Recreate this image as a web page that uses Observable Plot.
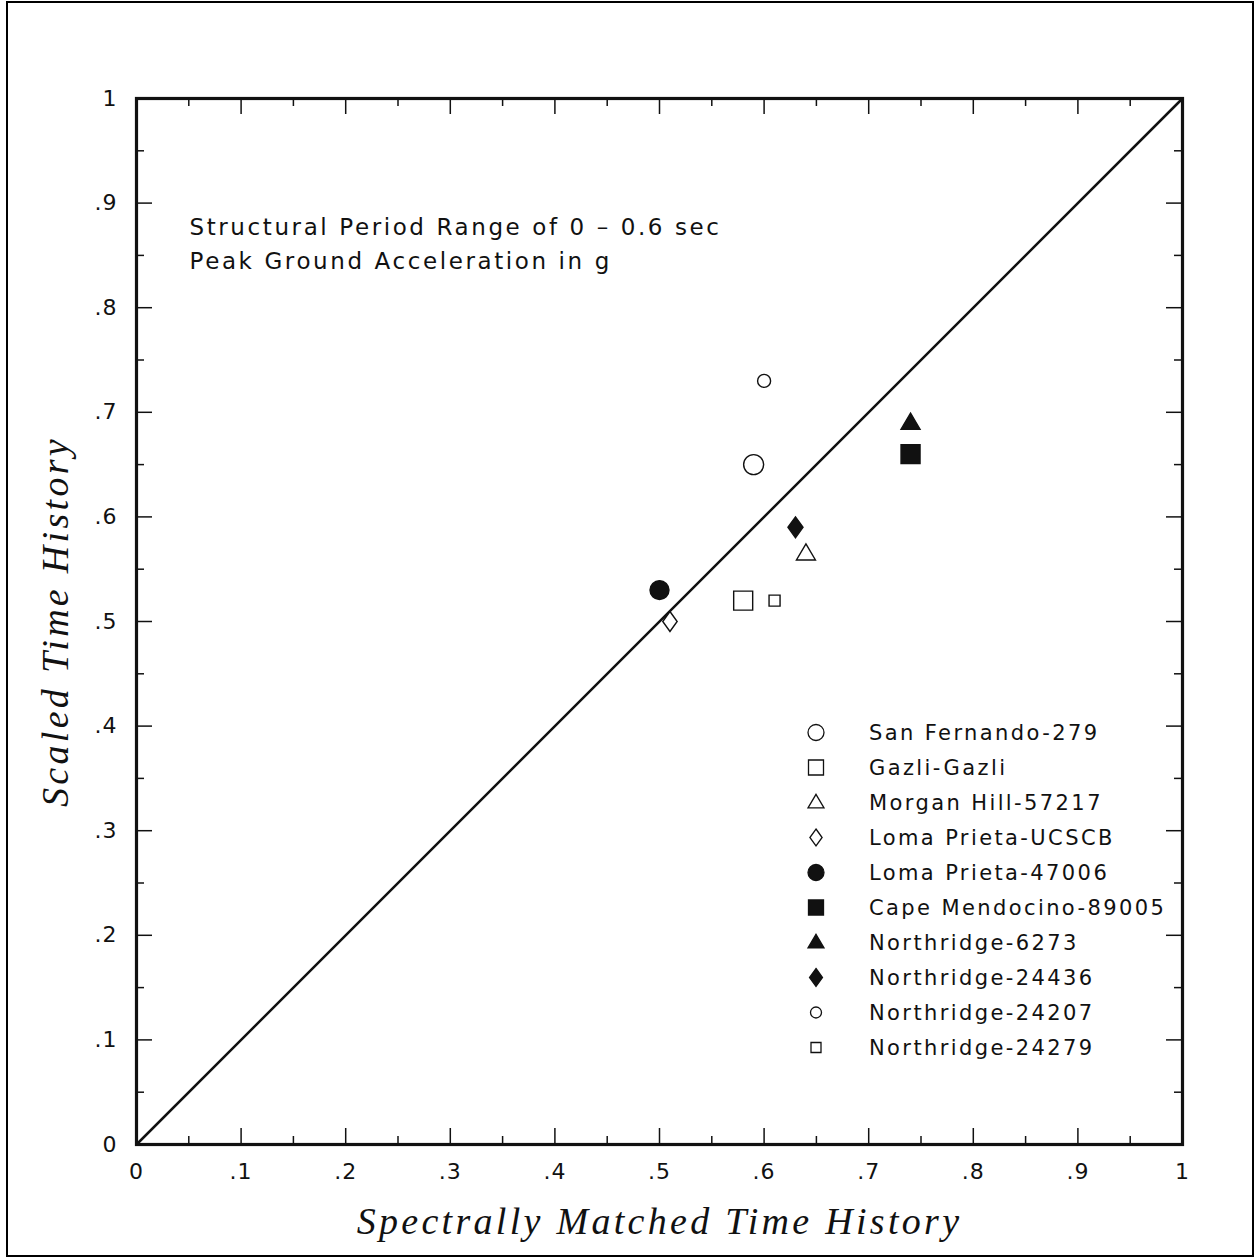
<!DOCTYPE html>
<html>
<head>
<meta charset="utf-8">
<script src="https://cdn.jsdelivr.net/npm/d3@7"></script>
<script src="https://cdn.jsdelivr.net/npm/@observablehq/plot@0.6"></script>
<style>
  body { margin: 0; background: #fff; }
  #chart { position: relative; width: 1254px; height: 1257px; overflow: hidden; background: #fff; }
  #chart svg { display: block; }
  #border { position: absolute; left: 6px; top: 1px; width: 1244px; height: 1252px; border: 2px solid #000; pointer-events: none; }
  #legend { position: absolute; left: 796px; top: 715px; font-family: "DejaVu Sans", sans-serif; font-size: 21px; letter-spacing: 2.4px; color: #111; }
  #legend .row { display: flex; align-items: center; height: 35px; }
  #legend svg { width: 40px; height: 35px; margin-right: 33px; overflow: visible; }
</style>
</head>
<body>
<div id="chart"><div id="border"></div></div>
<script>
// Earthquake records: PGA (g) of the spectrally matched vs. scaled time history
const records = [
  "San Fernando-279", "Gazli-Gazli", "Morgan Hill-57217", "Loma Prieta-UCSCB",
  "Loma Prieta-47006", "Cape Mendocino-89005", "Northridge-6273",
  "Northridge-24436", "Northridge-24207", "Northridge-24279"
];
const matchedPGA = [0.59, 0.58, 0.64, 0.51, 0.50, 0.74, 0.74, 0.63, 0.60, 0.61];
const scaledPGA  = [0.65, 0.52, 0.565, 0.50, 0.53, 0.66, 0.69, 0.59, 0.73, 0.52];

// 1:1 reference line
const equalityLine = [0, 1];

// Axis ticks and labels
const axisTicks  = [0, 0.1, 0.2, 0.3, 0.4, 0.5, 0.6, 0.7, 0.8, 0.9, 1];
const tickLabels = ["0", ".1", ".2", ".3", ".4", ".5", ".6", ".7", ".8", ".9", "1"];
const minorTicks = [0.05, 0.15, 0.25, 0.35, 0.45, 0.55, 0.65, 0.75, 0.85, 0.95];

const xTitle = "Spectrally Matched Time History";
const yTitle = "Scaled Time History";
const noteLines = ["Structural Period Range of 0 \u2013 0.6 sec", "Peak Ground Acceleration in g"];

// Marker styling per record: shape, filled?, size in px (chart, legend)
const markerStyle = [
  {kind: "circle",   filled: false, size: 20, legend: 16},
  {kind: "square",   filled: false, size: 19, legend: 15},
  {kind: "triangle", filled: false, size: 19, legend: 16},
  {kind: "diamond",  filled: false, size: 20, legend: 17},
  {kind: "circle",   filled: true,  size: 19, legend: 16},
  {kind: "square",   filled: true,  size: 19, legend: 15},
  {kind: "triangle", filled: true,  size: 19, legend: 16},
  {kind: "diamond",  filled: true,  size: 21, legend: 18},
  {kind: "circle",   filled: false, size: 13, legend: 11},
  {kind: "square",   filled: false, size: 11, legend: 10}
];

function shape(kind, s) {
  return {
    draw(ctx) {
      const h = s / 2;
      if (kind === "circle") {
        ctx.moveTo(h, 0); ctx.arc(0, 0, h, 0, 2 * Math.PI);
      } else if (kind === "square") {
        ctx.rect(-h, -h, s, s);
      } else if (kind === "triangle") {
        const th = s * 0.85;
        ctx.moveTo(0, -th * 0.6); ctx.lineTo(h, th * 0.4); ctx.lineTo(-h, th * 0.4); ctx.closePath();
      } else {
        const w = s * 0.36;
        ctx.moveTo(0, -h); ctx.lineTo(w, 0); ctx.lineTo(0, h); ctx.lineTo(-w, 0); ctx.closePath();
      }
    }
  };
}

const points = records.map((name, i) => ({name, x: matchedPGA[i], y: scaledPGA[i]}));

const W = 1254, H = 1257;
const mL = 136, mR = 72, mT = 98, mB = 113;
const innerW = W - mL - mR, innerH = H - mT - mB;
const ink = "#111";
const sans = "DejaVu Sans, sans-serif";
const serif = "Liberation Serif, serif";
const major = 16, minor = 8;

const labelOf = (d) => tickLabels[axisTicks.indexOf(d)];

const chart = Plot.plot({
  width: W, height: H,
  marginLeft: mL, marginRight: mR, marginTop: mT, marginBottom: mB,
  x: {domain: [0, 1]},
  y: {domain: [0, 1]},
  symbol: {domain: records, range: markerStyle.map(m => shape(m.kind, m.size))},
  color: {domain: records, range: markerStyle.map(m => m.filled ? ink : "white")},
  style: {background: "white", color: ink},
  marks: [
    Plot.axisX(axisTicks, {anchor: "bottom", tickSize: 0, tickPadding: 19, tickFormat: labelOf, fontSize: 22, fontFamily: sans, fill: ink, label: null}),
    Plot.axisY(axisTicks, {anchor: "left", tickSize: 0, tickPadding: 19, tickFormat: labelOf, fontSize: 22, fontFamily: sans, fill: ink, label: null}),
    // inward ticks on all four sides
    Plot.tickX(axisTicks, {x: d => d, insetTop: innerH - major, stroke: ink, strokeWidth: 1.5}),
    Plot.tickX(axisTicks, {x: d => d, insetBottom: innerH - major, stroke: ink, strokeWidth: 1.5}),
    Plot.tickY(axisTicks, {y: d => d, insetRight: innerW - major, stroke: ink, strokeWidth: 1.5}),
    Plot.tickY(axisTicks, {y: d => d, insetLeft: innerW - major, stroke: ink, strokeWidth: 1.5}),
    Plot.tickX(minorTicks, {x: d => d, insetTop: innerH - minor, stroke: ink, strokeWidth: 1.5}),
    Plot.tickX(minorTicks, {x: d => d, insetBottom: innerH - minor, stroke: ink, strokeWidth: 1.5}),
    Plot.tickY(minorTicks, {y: d => d, insetRight: innerW - minor, stroke: ink, strokeWidth: 1.5}),
    Plot.tickY(minorTicks, {y: d => d, insetLeft: innerW - minor, stroke: ink, strokeWidth: 1.5}),
    Plot.line(equalityLine, {x: d => d, y: d => d, stroke: ink, strokeWidth: 2.5}),
    Plot.dot(points, {x: "x", y: "y", symbol: "name", fill: "name", stroke: ink, strokeWidth: 1.4}),
    Plot.frame({stroke: ink, strokeWidth: 3.2}),
    Plot.text([noteLines.join("\n")], {frameAnchor: "top-left", dx: 53, dy: 112, lineAnchor: "top", lineHeight: 1.48, textAnchor: "start", fontSize: 23, fontFamily: sans, fill: ink}),
    Plot.text([xTitle], {frameAnchor: "bottom", dy: 77, lineAnchor: "middle", textAnchor: "middle", fontSize: 38, fontFamily: serif, fontStyle: "italic", fill: ink}),
    Plot.text([yTitle], {frameAnchor: "left", dx: -81, rotate: -90, lineAnchor: "middle", textAnchor: "middle", fontSize: 38, fontFamily: serif, fontStyle: "italic", fill: ink})
  ]
});

const root = document.getElementById("chart");
root.insertBefore(chart, root.firstChild);

// letter spacing for the plotter-style lettering (font size lives on the mark's group)
d3.select(chart).selectAll("g[aria-label='text']").each(function () {
  const fs = parseFloat(this.getAttribute("font-size")) || 0;
  d3.select(this).selectAll("text").attr("letter-spacing", fs > 30 ? "3.3px" : "2.6px");
});
d3.select(chart).selectAll("g[aria-label$='tick label'] text").attr("letter-spacing", "1px");

// Legend inside the plot frame
const legend = d3.select(root).append("div").attr("id", "legend");
records.forEach((name, i) => {
  const m = markerStyle[i];
  const row = legend.append("div").attr("class", "row");
  const svg = row.append("svg");
  const p = d3.path();
  shape(m.kind, m.legend).draw(p);
  svg.append("path")
    .attr("transform", "translate(20,17.5)")
    .attr("d", p.toString())
    .attr("fill", m.filled ? ink : "white")
    .attr("stroke", ink)
    .attr("stroke-width", 1.3);
  row.append("span").text(name);
});
</script>
</body>
</html>
